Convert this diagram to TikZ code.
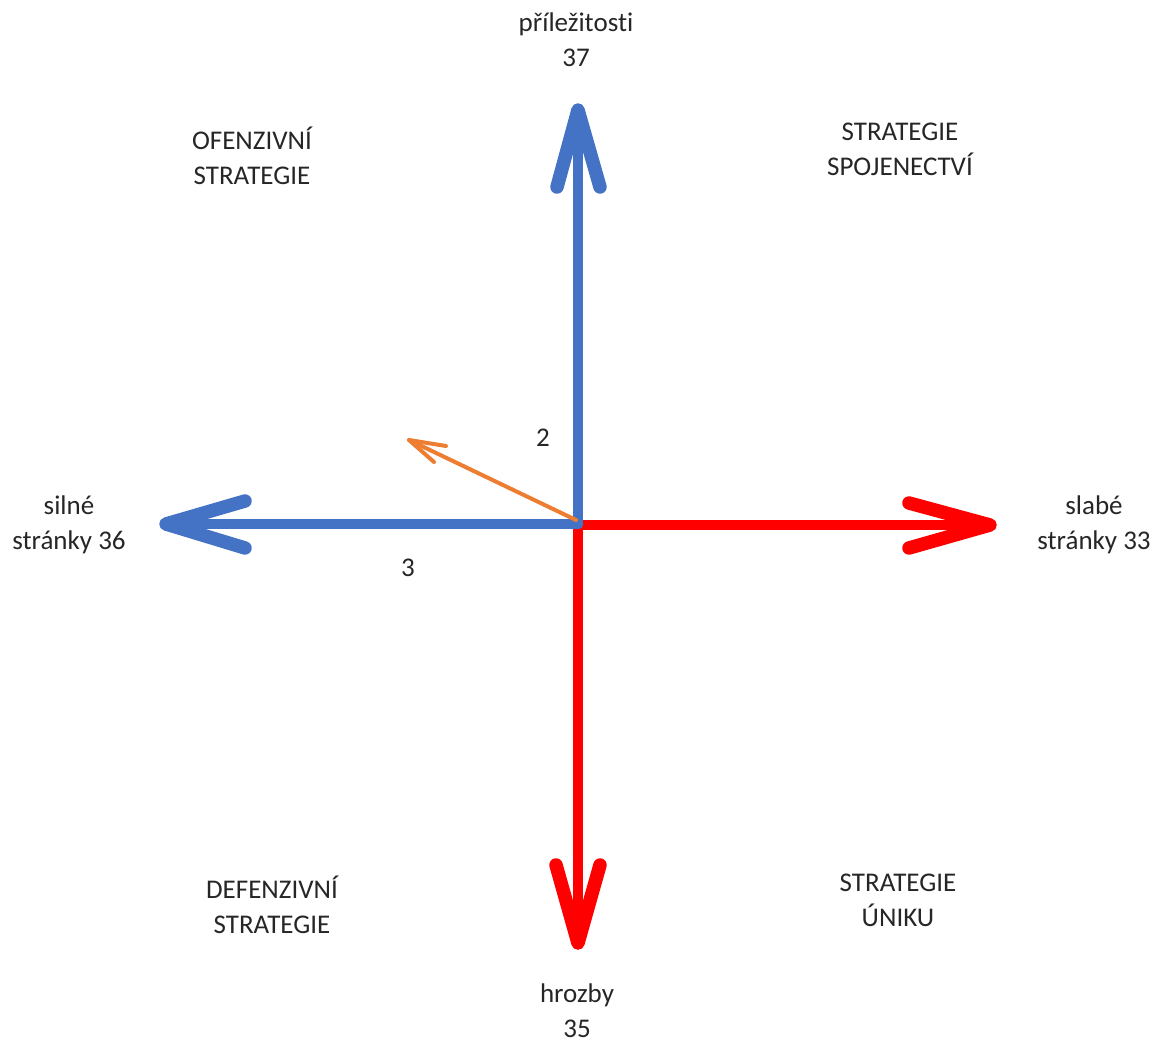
\documentclass[tikz,border=0pt]{standalone}
\usepackage{fontspec}
\setmainfont{Carlito}[Ligatures={NoCommon,NoContextual,NoRare}]
\definecolor{axblue}{HTML}{4472C4}
\definecolor{axred}{HTML}{FF0000}
\definecolor{axorange}{HTML}{ED7D31}
\begin{document}
\begin{tikzpicture}[x=1pt,y=-1pt,
  lbl/.style={align=center,font=\fontsize{27}{35}\selectfont,inner sep=0pt,text=black!85},
  shaft/.style={line width=10.5pt,line cap=round},
  head/.style={line width=13.5pt,line cap=round,line join=round},
  thin/.style={line width=4pt,line cap=round,line join=round,color=axorange}]
\useasboundingbox (0,0) rectangle (1163,1043);
% centre and tips
\coordinate (o) at (578,524);
\coordinate (up) at (578,110);
\coordinate (upL) at (557,187);
\coordinate (upR) at (600,187);
\coordinate (lt) at (166,524);
\coordinate (ltU) at (245,501);
\coordinate (ltD) at (245,548);
\coordinate (rt) at (990,525);
\coordinate (rtU) at (909,503);
\coordinate (rtD) at (909,548);
\coordinate (dn) at (578,943);
\coordinate (dnL) at (556,865);
\coordinate (dnR) at (600,865);
\coordinate (ot) at (409,440);
\coordinate (otU) at (446,446);
\coordinate (otD) at (434,462);
% red axes
\draw[shaft,axred] (582,525) -- (rt);
\draw[head,axred] (rtU) -- (rt) -- (rtD);
\draw[shaft,axred] (578,530) -- (dn);
\draw[head,axred] (dnL) -- (dn) -- (dnR);
% blue axes
\draw[shaft,axblue] (o) -- (up);
\draw[head,axblue] (upL) -- (up) -- (upR);
\draw[shaft,axblue] (o) -- (lt);
\draw[head,axblue] (ltU) -- (lt) -- (ltD);
% orange vector
\draw[thin] (576,520) -- (ot);
\draw[thin] (otU) -- (ot) -- (otD);
% labels
\node[lbl] (prl) at (576,40) {příležitosti\\37};
\node[lbl] (hro) at (577,1011) {hrozby\\35};
\node[lbl] (sil) at (69,525) {silné\\stránky 36};
\node[lbl] (sla) at (1094,525) {slabé\\stránky 33};
\node[lbl] (ofe) at (252,156) {OFENZIVNÍ\\STRATEGIE};
\node[lbl] (spo) at (900,149) {STRATEGIE\\SPOJENECTVÍ};
\node[lbl] (def) at (272,905) {DEFENZIVNÍ\\STRATEGIE};
\node[lbl] (uni) at (898,900) {STRATEGIE\\ÚNIKU};
\node[lbl] (two) at (543,438) {2};
\node[lbl] (thr) at (408,568) {3};
\end{tikzpicture}
\end{document}
